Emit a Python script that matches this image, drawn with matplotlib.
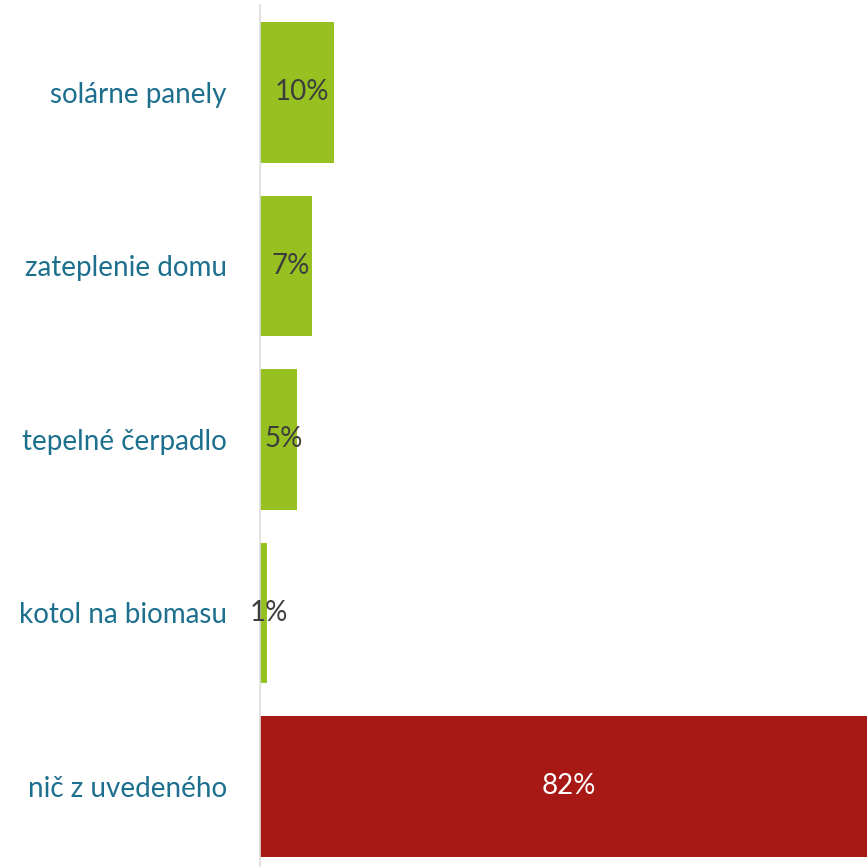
import numpy as np
import matplotlib.pyplot as plt

categories = ["solárne panely", "zateplenie domu", "tepelné čerpadlo",
              "kotol na biomasu", "nič z uvedeného"]
values = [10, 7, 5, 1, 82]
value_labels = ["10%", "7%", "5%", "1%", "82%"]
bar_colors = ["#97c121", "#97c121", "#97c121", "#97c121", "#a81815"]
text_colors = ["#3d3d3d", "#3d3d3d", "#3d3d3d", "#3d3d3d", "white"]

plt.rcParams['font.family'] = ['Lato', 'DejaVu Sans']

fig = plt.figure(figsize=(8.67, 8.67), dpi=100)
ax = fig.add_axes([260 / 867, 0, 1 - 260 / 867, 862 / 867])

ypos = np.arange(len(categories))
ax.barh(ypos, values, height=0.81, color=bar_colors)

# percent labels in the middle of each bar
for y, v, lab, tc in zip(ypos, values, value_labels, text_colors):
    ax.text(v / 2 + 0.7, y, lab, ha="center", va="center", fontsize=20,
            color=tc)

ax.set_yticks(ypos)
ax.set_yticklabels(categories, fontsize=20, color="#1d6f8e")
ax.tick_params(axis="y", length=0, pad=24)
ax.set_xticks([])
ax.set_xlim(0, 82)
ax.set_ylim(4.464, -0.504)

for s in ["top", "right", "bottom"]:
    ax.spines[s].set_visible(False)
ax.spines["left"].set_color("#dddddd")
ax.spines["left"].set_linewidth(1.2)

fig.savefig("out.png", dpi=100)
